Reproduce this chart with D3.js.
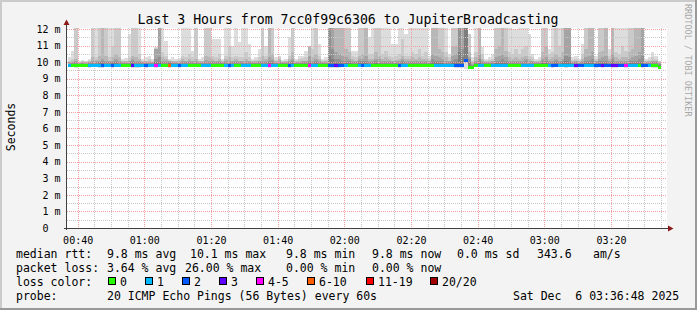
<!DOCTYPE html>
<html>
<head>
<meta charset="utf-8">
<script src="https://cdnjs.cloudflare.com/ajax/libs/d3/7.8.5/d3.min.js"></script>
<style>
  body { margin: 0; background: #f3f3f3; }
  svg text { font-family: "DejaVu Sans Mono", monospace; }
</style>
</head>
<body>
<div id="chart"></div>
<script>
// smokeping data, one value per minute from 00:37 (upper pings, sorted, ms)
var p20 = [10.3,10.7,13,10.1,10.15,10.1,10.2,13,13,13,
  13,13,13,13,13,13,10.2,10.25,11.7,13,
  13,13,10.2,10.3,10.4,10.2,10.9,13,13,11.3,
  10.2,10.3,10.2,10.25,13,13,13,10.7,13,10.2,
  10.3,13,13,11.4,11.4,11.4,10.2,13,13,11.0,
  13,11.2,13,13,11.1,10.2,10.3,10.8,13,11.0,
  13,13,10.3,10.35,10.15,10.2,11.5,13,10.2,10.4,
  10.4,10.7,11.0,13,13,11.1,10.2,10.3,13,13,
  13,13,13,13,13,10.7,10.7,13,13,13,
  11.5,13,13,13,13,13,13,11.1,11.1,13,
  13,11.7,13,13,13,13,13,13,10.4,13,
  13,13,13,13,10.5,13,13,13,13,13,
  11.7,10.3,13,13,10.9,10.2,10.3,10.5,13,13,
  13,13,13,12.0,12.0,13,13,13,11.7,10.5,
  10.2,10.3,13,13,10.8,13,13,13,13,13,
  13,10.3,10.4,10.2,11.1,13,13,13,10.4,13,
  13,13,10.8,13,13,13,13,13,13,13,
  13,13,13,10.2,10.3,10.6,10.4,10.1];
var p19 = [10.1,10.2,13,10.0,10.1,10.05,10.1,13,10.3,13,
  13,13,10.3,11.0,13,13,10.1,10.1,10.3,13,
  13,10.5,10.1,10.1,10.2,10.1,10.85,13,10.6,10.4,
  10.15,10.1,10.1,10.15,10.4,10.3,10.5,10.3,13,10.1,
  10.1,13,13,10.4,10.3,10.5,10.1,10.4,11.0,10.3,
  10.4,10.3,10.3,10.6,10.3,10.1,10.15,10.3,13,10.4,
  13,13,10.15,10.3,10.1,10.1,10.4,13,10.1,10.2,
  10.25,10.3,11.0,10.8,13,10.4,10.1,10.15,13,13,
  13,13,13,13,13,10.4,10.3,13,13,13,
  10.5,10.5,13,13,10.5,10.7,10.4,10.3,10.4,10.5,
  11.4,10.4,10.4,10.6,10.5,10.8,10.4,10.6,10.2,13,
  13,13,13,10.6,10.3,13,13,13,13,13,
  11.7,10.1,10.6,13,10.5,10.1,10.15,10.2,13,13,
  13,13,10.6,10.5,10.8,10.5,10.8,11.0,10.4,10.3,
  10.1,10.15,13,13,10.5,10.6,13,11.0,13,13,
  13,10.15,10.2,10.1,10.5,13,13,13,10.2,13,
  13,13,10.4,13,10.6,10.5,11.0,10.7,13,13,
  13,13,13,10.1,10.15,10.3,10.2,10.05];
var p18 = [10.0,10.1,10.2,10.0,10.0,10.0,10.05,10.3,10.15,10.4,
  13,10.4,10.1,10.3,10.5,10.3,10.05,10.05,10.1,10.4,
  10.3,10.2,10.05,10.05,10.1,10.0,10.8,13,10.3,10.2,
  10.1,10.05,10.05,10.1,10.2,10.1,10.2,10.1,10.2,10.05,
  10.05,10.4,10.3,10.2,10.1,10.2,10.05,10.2,10.3,10.1,
  10.2,10.1,10.1,10.2,10.1,10.05,10.05,10.1,10.4,10.2,
  13,10.5,10.1,10.2,10.0,10.05,10.2,10.6,10.05,10.1,
  10.1,10.1,11.0,10.3,10.5,10.2,10.05,10.1,13,13,
  13,13,13,10.8,10.6,10.2,10.1,10.4,10.5,13,
  10.2,10.2,10.6,10.4,10.2,10.3,10.2,10.1,10.15,10.2,
  10.4,10.2,10.2,10.3,10.2,10.3,10.2,10.2,10.1,13,
  13,10.8,10.6,10.3,10.1,11.0,11.0,13,13,13,
  10.6,10.0,10.3,13,10.2,10.05,10.1,10.1,10.8,11.0,
  13,10.7,10.3,10.2,10.3,10.2,10.3,10.4,10.2,10.1,
  10.05,10.1,10.6,11.0,10.2,10.3,10.5,10.3,10.6,13,
  13,10.1,10.1,10.05,10.2,10.8,13,13,10.1,10.6,
  10.7,13,10.2,13,10.3,10.2,10.3,10.3,10.6,10.8,
  13,13,13,10.05,10.1,10.1,10.1,10.0];
var p17 = [10.0,10.0,10.1,9.95,10.0,9.95,10.0,10.1,10.05,10.1,
  10.2,10.1,10.05,10.1,10.2,10.1,10.0,10.0,10.05,10.2,
  10.1,10.1,10.0,10.0,10.0,10.0,10.8,13,10.1,10.1,
  10.05,10.0,10.0,10.0,10.1,10.05,10.1,10.05,10.1,10.0,
  10.0,10.15,10.1,10.1,10.05,10.1,10.0,10.1,10.1,10.05,
  10.1,10.05,10.05,10.1,10.05,10.0,10.0,10.05,10.1,10.1,
  10.3,10.2,10.0,10.1,10.0,10.0,10.1,10.2,10.0,10.0,
  10.05,10.05,10.4,10.1,10.2,10.1,10.0,10.0,13,13,
  10.6,10.5,10.4,10.3,10.2,10.1,10.05,10.2,10.2,10.4,
  10.1,10.1,10.2,10.2,10.1,10.1,10.1,10.05,10.05,10.1,
  10.2,10.1,10.1,10.1,10.1,10.1,10.1,10.1,10.05,10.5,
  10.4,10.3,10.2,10.1,10.05,10.4,10.5,13,13,13,
  10.3,9.9,10.1,10.5,10.1,10.0,10.0,10.05,10.3,10.4,
  10.5,10.3,10.1,10.1,10.1,10.1,10.1,10.2,10.1,10.05,
  10.0,10.0,10.2,10.3,10.1,10.1,10.2,10.1,10.2,13,
  13,10.0,10.05,10.0,10.1,10.3,10.4,10.6,10.05,10.2,
  10.3,10.4,10.1,10.5,10.1,10.1,10.1,10.1,10.2,10.3,
  10.4,10.6,13,10.0,10.0,10.05,10.05,9.95];
var p16 = [9.9,9.95,10.0,9.9,9.95,9.9,9.95,10.0,10.0,10.0,
  10.05,10.0,10.0,10.0,10.05,10.0,9.95,9.95,10.0,10.05,
  10.0,10.0,9.95,9.95,9.95,9.95,10.2,10.3,10.0,10.0,
  10.0,9.95,9.95,9.95,10.0,10.0,10.0,10.0,10.0,9.95,
  9.95,10.0,10.0,10.0,10.0,10.0,9.95,10.0,10.0,10.0,
  10.0,10.0,10.0,10.0,10.0,9.95,9.95,10.0,10.0,10.0,
  10.1,10.05,9.95,10.0,9.95,9.95,10.0,10.05,9.95,9.95,
  10.0,10.0,10.1,10.0,10.05,10.0,9.95,9.95,13,10.8,
  10.2,10.2,10.1,10.1,10.05,10.0,10.0,10.05,10.05,10.1,
  10.0,10.0,10.05,10.0,10.0,10.0,10.0,10.0,10.0,10.0,
  10.05,10.0,10.0,10.0,10.0,10.0,10.0,10.0,10.0,10.2,
  10.1,10.1,10.05,10.0,10.0,10.1,10.2,13,10.8,13,
  10.2,9.8,10.0,10.2,10.0,9.95,9.95,10.0,10.1,10.1,
  10.2,10.1,10.0,10.0,10.0,10.0,10.0,10.05,10.0,10.0,
  9.95,9.95,10.05,10.1,10.0,10.0,10.05,10.0,10.05,10.4,
  10.3,9.95,10.0,9.95,10.0,10.1,10.1,10.2,10.0,10.05,
  10.1,10.1,10.0,10.2,10.0,10.0,10.0,10.0,10.05,10.1,
  10.1,10.2,10.4,9.95,9.95,10.0,10.0,9.9];
var p15 = [9.9,9.9,9.9,9.9,9.9,9.9,9.9,9.9,9.9,9.95,
  9.95,9.9,9.9,9.95,9.95,9.9,9.9,9.9,9.9,9.95,
  9.9,9.9,9.9,9.9,9.9,9.9,10.0,10.0,9.9,9.9,
  9.95,9.9,9.9,9.9,9.9,9.9,9.9,9.9,9.9,9.9,
  9.9,9.9,9.9,9.9,9.9,9.9,9.9,9.9,9.9,9.9,
  9.9,9.9,9.9,9.9,9.9,9.9,9.9,9.9,9.9,9.9,
  9.95,9.95,9.9,9.9,9.9,9.9,9.9,9.95,9.9,9.9,
  9.9,9.9,9.95,9.9,9.95,9.9,9.9,9.9,10.4,10.2,
  10.0,10.0,9.95,9.95,9.95,9.9,9.9,9.95,9.95,9.95,
  9.9,9.9,9.95,9.9,9.9,9.9,9.9,9.9,9.9,9.9,
  9.95,9.9,9.9,9.9,9.9,9.9,9.9,9.9,9.9,10.0,
  10.0,9.95,9.95,9.9,9.9,9.95,10.0,10.6,10.3,13,
  10.0,9.75,9.9,10.0,9.9,9.9,9.9,9.9,9.95,9.95,
  10.0,9.95,9.9,9.9,9.9,9.9,9.9,9.9,9.9,9.9,
  9.9,9.9,9.95,9.95,9.9,9.9,9.95,9.9,9.95,10.05,
  10.0,9.9,9.9,9.9,9.9,9.95,9.95,10.0,9.9,9.95,
  9.95,9.95,9.9,10.0,9.9,9.9,9.9,9.9,9.95,9.95,
  9.95,10.0,10.0,9.9,9.9,9.9,9.9,9.85];
// lowest ping per minute
var p1 = [9.7,9.7,9.65,9.7,9.7,9.7,9.65,9.7,9.7,9.65,
  9.65,9.7,9.7,9.65,9.7,9.7,9.7,9.7,9.7,9.65,
  9.65,9.65,9.7,9.65,9.7,9.7,9.65,9.7,9.7,9.7,
  9.65,9.7,9.7,9.65,9.7,9.7,9.7,9.7,9.7,9.7,
  9.7,9.7,9.7,9.7,9.7,9.7,9.7,9.7,9.65,9.7,
  9.7,9.7,9.7,9.7,9.7,9.7,9.7,9.7,9.7,9.7,
  9.65,9.7,9.7,9.7,9.7,9.7,9.65,9.7,9.7,9.7,
  9.7,9.7,9.65,9.7,9.7,9.7,9.7,9.7,9.65,9.65,
  9.65,9.65,9.7,9.7,9.7,9.7,9.7,9.7,9.7,9.7,
  9.7,9.7,9.7,9.7,9.7,9.7,9.7,9.7,9.7,9.65,
  9.7,9.7,9.7,9.7,9.7,9.7,9.7,9.7,9.7,9.7,
  9.7,9.7,9.7,9.7,9.7,9.7,9.65,9.65,9.65,9.6,
  9.6,9.6,9.7,9.7,9.7,9.7,9.7,9.7,9.7,9.7,
  9.7,9.7,9.7,9.7,9.7,9.7,9.7,9.7,9.7,9.7,
  9.7,9.7,9.7,9.7,9.7,9.65,9.7,9.7,9.7,9.65,
  9.7,9.7,9.65,9.7,9.7,9.7,9.7,9.7,9.65,9.7,
  9.65,9.7,9.7,9.65,9.65,9.7,9.7,9.65,9.7,9.7,
  9.7,9.7,9.65,9.7,9.7,9.65,9.65,9.6];
var median = [9.8,9.8,9.8,9.8,9.8,9.8,9.8,9.8,9.8,9.8,
  9.8,9.8,9.8,9.8,9.8,9.8,9.8,9.8,9.8,9.8,
  9.8,9.8,9.8,9.8,9.8,9.8,9.8,9.8,9.8,9.8,
  9.8,9.8,9.8,9.8,9.8,9.8,9.8,9.8,9.8,9.8,
  9.8,9.8,9.8,9.8,9.8,9.8,9.8,9.8,9.8,9.8,
  9.8,9.8,9.8,9.8,9.8,9.8,9.8,9.8,9.8,9.8,
  9.8,9.8,9.8,9.8,9.8,9.8,9.8,9.8,9.8,9.8,
  9.8,9.8,9.8,9.8,9.8,9.8,9.8,9.8,9.8,9.8,
  9.8,9.8,9.8,9.8,9.8,9.8,9.8,9.8,9.8,9.8,
  9.8,9.8,9.8,9.8,9.8,9.8,9.8,9.8,9.8,9.8,
  9.8,9.8,9.8,9.8,9.8,9.8,9.8,9.8,9.8,9.8,
  9.8,9.8,9.8,9.8,9.8,9.8,9.8,9.8,9.8,10.1,
  9.7,9.7,9.8,9.8,9.8,9.8,9.8,9.8,9.8,9.8,
  9.8,9.8,9.8,9.8,9.8,9.8,9.8,9.8,9.8,9.8,
  9.8,9.8,9.8,9.8,9.8,9.8,9.8,9.8,9.8,9.8,
  9.8,9.8,9.8,9.8,9.8,9.8,9.8,9.8,9.8,9.8,
  9.8,9.8,9.8,9.8,9.8,9.8,9.8,9.8,9.8,9.8,
  9.8,9.8,9.8,9.8,9.8,9.8,9.8,9.7];
// lost pings out of 20, per minute
var loss = [1,0,0,0,0,0,1,1,1,1,
  2,1,1,2,1,1,0,0,0,3,
  1,1,1,2,1,1,4,1,0,0,
  6,1,1,2,1,1,0,0,0,0,
  1,1,1,0,0,0,0,1,2,1,
  0,0,1,1,1,0,0,0,1,1,
  4,1,1,0,0,0,2,1,0,0,
  0,0,4,1,1,0,0,0,2,2,
  3,2,2,1,0,0,0,1,2,1,
  1,0,0,0,0,0,0,0,0,2,
  1,1,0,0,0,0,0,0,0,0,
  1,1,1,1,1,1,2,2,2,2,
  0,0,0,1,1,0,0,1,1,1,
  1,1,0,0,0,0,1,1,1,1,
  0,0,0,0,1,2,2,1,1,1,
  1,1,3,2,2,1,1,1,2,2,
  3,2,2,3,3,2,2,4,1,1,
  1,0,2,2,1,0,0,0];

var lossLabels = ["0", "1", "2", "3", "4-5", "6-10", "11-19", "20/20"];
var lossLimits = [1, 2, 3, 4, 6, 11, 20];
var lossColors = ["#26ff00", "#00b8ff", "#0059ff", "#5e00ff", "#ff00ff", "#ff5e00", "#ff0000", "#a10000"];
var smokeColors = ["#dddddd", "#cacaca", "#b7b7b7", "#a4a4a4", "#919191", "#7e7e7e"];
var yTicks = [0, 1, 2, 3, 4, 5, 6, 7, 8, 9, 10, 11, 12];

var legendRtt = [["median rtt:", 16], ["9.8 ms avg", 107], ["10.1 ms max", 190], ["9.8 ms min", 286],
                 ["9.8 ms now", 372], ["0.0 ms sd", 457], ["343.6", 537], ["am/s", 593]];
var legendLoss = [["packet loss:", 16], ["3.64 % avg", 107], ["26.00 % max", 185],
                  ["0.00 % min", 286], ["0.00 % now", 372]];
var legendBoxX = [108.5, 145.5, 182.5, 219.5, 256.5, 307.5, 366.5, 430.5];

var t0 = new Date(2025, 11, 6, 0, 36, 48),
    t1 = new Date(2025, 11, 6, 3, 36, 48),
    firstStep = new Date(2025, 11, 6, 0, 37, 0);
var times = median.map(function(d, i) { return d3.timeMinute.offset(firstStep, i); });

var width = 697, height = 310;
var plotL = 67, plotR = 667, plotT = 28, plotB = 228;

var x = d3.scaleTime().domain([t0, t1]).range([plotL, plotR]);
var y = d3.scaleLinear().domain([0, 12.06]).range([plotB, plotT]);
var lossColor = d3.scaleThreshold().domain(lossLimits).range(lossColors);

var svg = d3.select("#chart").append("svg")
            .attr("width", width)
            .attr("height", height);

svg.append("rect").attr("width", width).attr("height", height).attr("fill", "#f3f3f3");
// shaded frame
svg.append("rect").attr("x", 0).attr("y", 0).attr("width", width).attr("height", 2).attr("fill", "#cbcbcb");
svg.append("rect").attr("x", 0).attr("y", 0).attr("width", 2).attr("height", height).attr("fill", "#cbcbcb");
svg.append("rect").attr("x", 0).attr("y", height - 2).attr("width", width).attr("height", 2).attr("fill", "#999999");
svg.append("rect").attr("x", width - 2).attr("y", 0).attr("width", 2).attr("height", height).attr("fill", "#999999");

svg.append("defs").append("clipPath").attr("id", "plotclip")
   .append("rect").attr("x", plotL).attr("y", plotT).attr("width", plotR - plotL).attr("height", plotB - plotT);

svg.append("rect")
   .attr("x", plotL).attr("y", plotT)
   .attr("width", plotR - plotL).attr("height", plotB - plotT)
   .attr("fill", "#ffffff");

// smoke: outer band reaches down to the lowest ping, inner bands sit on the median
function colX(i) { return Math.round(x(times[i])); }
function colW(i) { return Math.round(x(d3.timeMinute.offset(times[i], 1))) - colX(i); }
var smoke = svg.append("g").attr("clip-path", "url(#plotclip)").attr("shape-rendering", "crispEdges");
[p20, p19, p18, p17, p16, p15].forEach(function(band, b) {
  smoke.append("g")
       .attr("fill", smokeColors[b])
       .selectAll("rect").data(band)
       .enter().append("rect")
       .attr("x", function(d, i) { return colX(i); })
       .attr("width", function(d, i) { return colW(i); })
       .attr("y", function(d) { return Math.round(y(d)); })
       .attr("height", function(d, i) {
         var base = b == 0 ? p1[i] : median[i];
         return Math.max(0, Math.round(y(base)) - Math.round(y(d)));
       });
});

// grid
var grid = svg.append("g").attr("shape-rendering", "crispEdges").attr("stroke-width", 1).attr("stroke-dasharray", "1,1");
var minorT = d3.timeMinute.every(5).range(t0, t1).filter(function(d) { return d.getMinutes() % 20 != 0; });
var majorT = d3.timeMinute.every(20).range(t0, t1);
var minorY = d3.range(0.5, 12.5, 1);
grid.selectAll("line.vmin").data(minorT).enter().append("line")
    .attr("x1", function(d) { return Math.round(x(d)) + 0.5; })
    .attr("x2", function(d) { return Math.round(x(d)) + 0.5; })
    .attr("y1", plotT).attr("y2", plotB).attr("stroke", "#c8c8c8");
grid.selectAll("line.hmin").data(minorY).enter().append("line")
    .attr("y1", function(d) { return Math.round(y(d)) + 0.5; })
    .attr("y2", function(d) { return Math.round(y(d)) + 0.5; })
    .attr("x1", plotL).attr("x2", plotR).attr("stroke", "#c8c8c8");
grid.selectAll("line.vmaj").data(majorT).enter().append("line")
    .attr("x1", function(d) { return Math.round(x(d)) + 0.5; })
    .attr("x2", function(d) { return Math.round(x(d)) + 0.5; })
    .attr("y1", plotT).attr("y2", plotB).attr("stroke", "#eea0a0");
grid.selectAll("line.hmaj").data(yTicks.slice(1)).enter().append("line")
    .attr("y1", function(d) { return Math.round(y(d)) + 0.5; })
    .attr("y2", function(d) { return Math.round(y(d)) + 0.5; })
    .attr("x1", plotL).attr("x2", plotR).attr("stroke", "#eea0a0");

// median line coloured by loss
svg.append("g").attr("shape-rendering", "crispEdges")
   .selectAll("rect").data(median)
   .enter().append("rect")
   .attr("x", function(d, i) { return colX(i); })
   .attr("width", function(d, i) { return colW(i); })
   .attr("y", function(d) { return Math.round(y(d) - 1.5); })
   .attr("height", 3)
   .attr("fill", function(d, i) { return lossColor(loss[i]); });

// axes
var xAxis = svg.append("g")
               .attr("transform", "translate(0," + plotB + ")")
               .call(d3.axisBottom(x).ticks(d3.timeMinute.every(20)).tickSize(0).tickPadding(9)
                       .tickFormat(d3.timeFormat("%H:%M")));
var yAxis = svg.append("g")
               .attr("transform", "translate(" + plotL + ",0)")
               .call(d3.axisLeft(y).tickValues(yTicks).tickSize(0)
                       .tickFormat(function(d) { return d == 0 ? "0" : d + " m"; }));
xAxis.select(".domain").remove();
yAxis.select(".domain").remove();
xAxis.selectAll("text").attr("font-size", 10).attr("font-family", "DejaVu Sans Mono").attr("fill", "#000");
yAxis.selectAll("text").attr("font-size", 10).attr("font-family", "DejaVu Sans Mono").attr("fill", "#000")
     .attr("text-anchor", "start")
     .attr("x", function(d) { return d >= 10 ? -30.5 : -24.5; });

svg.append("line").attr("x1", plotL - 0.5).attr("x2", plotL - 0.5).attr("y1", plotB + 2).attr("y2", 22)
   .attr("stroke", "#404040");
svg.append("line").attr("x1", plotL - 3).attr("x2", 669).attr("y1", plotB + 0.5).attr("y2", plotB + 0.5)
   .attr("stroke", "#404040");
svg.append("path").attr("d", "M" + (plotL - 0.5) + ",19.5L" + (plotL + 2.5) + ",25L" + (plotL - 3.5) + ",25Z").attr("fill", "#8b1a1a");
svg.append("path").attr("d", "M673.5," + (plotB + 0.5) + "L668," + (plotB - 2.5) + "L668," + (plotB + 3.5) + "Z").attr("fill", "#8b1a1a");

// titles
svg.append("text").attr("x", 348).attr("y", 24).attr("text-anchor", "middle")
   .attr("font-size", 13.2).attr("fill", "#000")
   .text("Last 3 Hours from 7cc0f99c6306 to JupiterBroadcasting");
svg.append("text").attr("transform", "translate(15,127) rotate(-90)").attr("text-anchor", "middle")
   .attr("font-size", 11.5).attr("fill", "#000").text("Seconds");
svg.append("text").attr("transform", "translate(685,4) rotate(90)")
   .attr("font-size", 8.5).attr("fill", "#a8a8a8").text("RRDTOOL / TOBI OETIKER");

// legend
var legend = svg.append("g").attr("font-size", 11.5).attr("fill", "#000");
legend.selectAll("text.rtt").data(legendRtt).enter().append("text")
      .attr("x", function(d) { return d[1]; }).attr("y", 257.5).text(function(d) { return d[0]; });
legend.selectAll("text.loss").data(legendLoss).enter().append("text")
      .attr("x", function(d) { return d[1]; }).attr("y", 271.7).text(function(d) { return d[0]; });
legend.append("text").attr("x", 16).attr("y", 285.9).text("loss color:");
legend.selectAll("rect").data(lossLabels).enter().append("rect")
      .attr("x", function(d, i) { return legendBoxX[i]; }).attr("y", 277.5)
      .attr("width", 7).attr("height", 7)
      .attr("fill", function(d, i) { return lossColors[i]; })
      .attr("stroke", "#000");
legend.selectAll("text.lc").data(lossLabels).enter().append("text")
      .attr("x", function(d, i) { return legendBoxX[i] + 11.5; }).attr("y", 285.9).text(function(d) { return d; });
legend.append("text").attr("x", 16).attr("y", 300).text("probe:");
legend.append("text").attr("x", 107).attr("y", 300).text("20 ICMP Echo Pings (56 Bytes) every 60s");
legend.append("text").attr("x", 513).attr("y", 300).attr("xml:space", "preserve").style("white-space", "pre")
      .text("Sat Dec  6 03:36:48 2025");
</script>
</body>
</html>
